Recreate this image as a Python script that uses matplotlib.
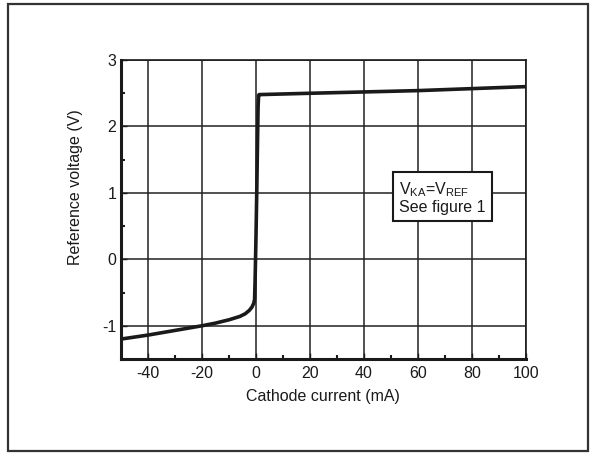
import matplotlib.pyplot as plt
import matplotlib.patches as patches
import numpy as np

plt.rcParams['font.family'] = ['Liberation Sans', 'DejaVu Sans']
plt.rcParams['axes.unicode_minus'] = False

# curve: cathode current (mA) vs reference voltage (V)
current = [-50, -40, -30, -20, -15, -10, -6, -4, -2.5, -1.5, -0.8, -0.5, -0.3, 0.0, 0.3, 0.6, 0.8, 1.0, 1.2, 20, 40, 60, 80, 100]
voltage = [-1.20, -1.14, -1.07, -1.00, -0.96, -0.91, -0.86, -0.82, -0.77, -0.72, -0.66, -0.60, -0.30, 0.30, 1.00, 1.80, 2.30, 2.47, 2.48, 2.50, 2.52, 2.54, 2.57, 2.60]

x_ticks = [-40, -20, 0, 20, 40, 60, 80, 100]
y_ticks = [-1, 0, 1, 2, 3]

fig = plt.figure(figsize=(5.97, 4.55), dpi=100)
ax = fig.add_axes([0.2027, 0.211, 0.678, 0.657])

ax.plot(current, voltage, color='#1a1a1a', linewidth=2.6, solid_joinstyle='round', zorder=3)

ax.set_xlim(-50, 100)
ax.set_ylim(-1.5, 3)
ax.set_xticks(x_ticks)
ax.set_yticks(y_ticks)
ax.set_xticks(np.arange(-30, 100, 20), minor=True)
ax.set_yticks([-0.5, 0.5, 1.5, 2.5], minor=True)
ax.tick_params(which='both', direction='in', labelsize=11.5, colors='#1a1a1a')
ax.tick_params(which='major', length=4, width=1)
ax.tick_params(which='minor', length=3, width=1.5)
ax.tick_params(axis='x', which='major', pad=5)
ax.grid(True, which='major', color='#222222', linewidth=1.1)

for side in ['left', 'bottom']:
    ax.spines[side].set_linewidth(2.2)
for side in ['top', 'right']:
    ax.spines[side].set_linewidth(1.2)
for s in ax.spines.values():
    s.set_color('#1a1a1a')

ax.set_xlabel('Cathode current (mA)', fontsize=11.5, color='#1a1a1a', labelpad=6)
ax.set_ylabel('Reference voltage (V)', fontsize=11.5, color='#1a1a1a')
ax.yaxis.set_label_coords(-0.095, 0.575)

ax.text(0.688, 0.54, r'V$_{\mathregular{KA}}$=V$_{\mathregular{REF}}$' + '\nSee figure 1',
        transform=ax.transAxes, fontsize=11.5, color='#1a1a1a', va='center', ha='left',
        linespacing=1.05, zorder=5,
        bbox=dict(boxstyle='square,pad=0.4', facecolor='white', edgecolor='#1a1a1a', linewidth=1.5))

# outer frame around the whole figure
fig.patches.append(patches.Rectangle((8 / 597, 4 / 455), 580 / 597, 447 / 455,
                                     transform=fig.transFigure, fill=False,
                                     edgecolor='#333333', linewidth=1.6))

fig.savefig('out.png', dpi=100)
